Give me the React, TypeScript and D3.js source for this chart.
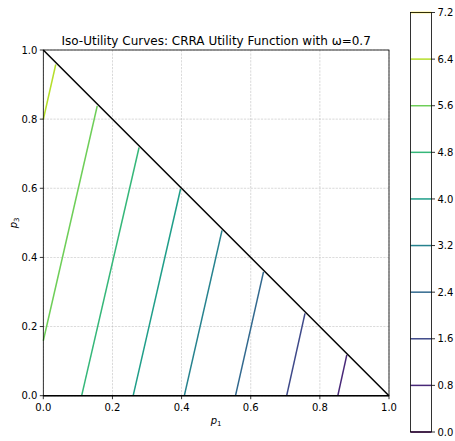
import React from "react";
import * as d3 from "d3";

const levels = [0.0, 0.8, 1.6, 2.4, 3.2, 4.0, 4.8, 5.6, 6.4, 7.2];
// iso-utility segments: level, start (p1,p3), end (p1,p3)
const segLevels = [0.8, 1.6, 2.4, 3.2, 4.0, 4.8, 5.6, 6.4];
const segP1Start = [0.852, 0.704, 0.556, 0.408, 0.26, 0.111, 0.0, 0.0];
const segP3Start = [0.0, 0.0, 0.0, 0.0, 0.0, 0.0, 0.159, 0.799];
const segP1End = [0.878, 0.757, 0.637, 0.517, 0.397, 0.277, 0.156, 0.036];
const segP3End = [0.118, 0.238, 0.358, 0.478, 0.598, 0.718, 0.838, 0.958];
const axisTicks = [0.0, 0.2, 0.4, 0.6, 0.8, 1.0];
const titleText = "Iso-Utility Curves: CRRA Utility Function with ω=0.7";

const W = 455;
const H = 441;
const FONT = "'DejaVu Sans', sans-serif";

export default function App() {
  const x0 = 43.3, x1 = 389, yTop = 50, yBot = 395.7;
  const x = d3.scaleLinear().domain([0, 1]).range([x0, x1]);
  const y = d3.scaleLinear().domain([0, 1]).range([yBot, yTop]);
  const color = d3.scaleSequential(d3.interpolateViridis).domain([0, 7.2]);

  const cbL = 410.5, cbR = 431.5, cbTop = 12.5, cbBot = 432;
  const cy = d3.scaleLinear().domain([0, 7.2]).range([cbBot, cbTop]);

  const line = d3.line<[number, number]>().x((d) => x(d[0])).y((d) => y(d[1]));
  const fmt = d3.format(".1f");

  return (
    <svg width={W} height={H} style={{ position: "absolute", left: 0, top: 0 }}>
      <rect x={0} y={0} width={W} height={H} fill="#fff" />
      {/* grid */}
      {axisTicks.map((t) => (
        <g key={"g" + t}>
          <line x1={x(t)} x2={x(t)} y1={yTop} y2={yBot} stroke="#b0b0b0" strokeWidth={0.6} strokeDasharray="2.2,1.2" opacity={0.8} />
          <line x1={x0} x2={x1} y1={y(t)} y2={y(t)} stroke="#b0b0b0" strokeWidth={0.6} strokeDasharray="2.2,1.2" opacity={0.8} />
        </g>
      ))}
      {/* contour lines */}
      {segLevels.map((lv, i) => (
        <path
          key={"s" + i}
          d={line([[segP1Start[i], segP3Start[i]], [segP1End[i], segP3End[i]]]) || ""}
          stroke={color(lv)}
          strokeWidth={1.5}
          fill="none"
        />
      ))}
      {/* triangle edges */}
      <path d={line([[0, 1], [1, 0]]) || ""} stroke="#000" strokeWidth={1.5} fill="none" />
      <path d={line([[0, 0], [1, 0]]) || ""} stroke="#000" strokeWidth={1.5} fill="none" />
      {/* spines */}
      <rect x={x0} y={yTop} width={x1 - x0} height={yBot - yTop} fill="none" stroke="#000" strokeWidth={0.8} />
      {/* x ticks */}
      {axisTicks.map((t) => (
        <g key={"xt" + t}>
          <line x1={x(t)} x2={x(t)} y1={yBot} y2={yBot + 3.5} stroke="#000" strokeWidth={0.8} />
          <text x={x(t)} y={yBot + 15} textAnchor="middle" fontFamily={FONT} fontSize={10} fill="#000">
            {fmt(t)}
          </text>
          <line x1={x0 - 3.5} x2={x0} y1={y(t)} y2={y(t)} stroke="#000" strokeWidth={0.8} />
          <text x={x0 - 6} y={y(t) + 3.6} textAnchor="end" fontFamily={FONT} fontSize={10} fill="#000">
            {fmt(t)}
          </text>
        </g>
      ))}
      {/* axis labels */}
      <text x={(x0 + x1) / 2} y={424} textAnchor="middle" fontFamily={FONT} fontSize={10} fill="#000">
        <tspan fontStyle="italic">p</tspan>
        <tspan fontSize={7} dy={2}>1</tspan>
      </text>
      <text
        transform={`translate(17, ${(yTop + yBot) / 2}) rotate(-90)`}
        textAnchor="middle"
        fontFamily={FONT}
        fontSize={10}
        fill="#000"
      >
        <tspan fontStyle="italic">p</tspan>
        <tspan fontSize={7} dy={2}>3</tspan>
      </text>
      {/* title */}
      <text x={(x0 + x1) / 2} y={45} textAnchor="middle" fontFamily={FONT} fontSize={12} fill="#000">
        {titleText}
      </text>
      {/* colorbar */}
      <rect x={cbL} y={cbTop} width={cbR - cbL} height={cbBot - cbTop} fill="#fff" />
      {levels.map((lv) => (
        <line key={"cl" + lv} x1={cbL} x2={cbR} y1={cy(lv)} y2={cy(lv)} stroke={color(lv)} strokeWidth={1.5} />
      ))}
      <rect x={cbL} y={cbTop} width={cbR - cbL} height={cbBot - cbTop} fill="none" stroke="#000" strokeWidth={0.8} />
      {levels.map((lv) => (
        <g key={"ct" + lv}>
          <line x1={cbR} x2={cbR + 3.5} y1={cy(lv)} y2={cy(lv)} stroke="#000" strokeWidth={0.8} />
          <text x={cbR + 6} y={cy(lv) + 3.6} textAnchor="start" fontFamily={FONT} fontSize={10} fill="#000">
            {fmt(lv)}
          </text>
        </g>
      ))}
    </svg>
  );
}
